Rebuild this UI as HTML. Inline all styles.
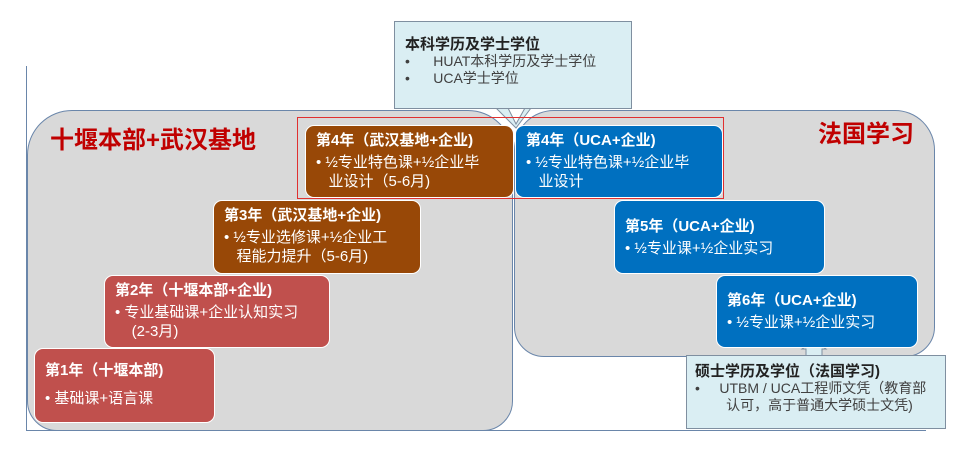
<!DOCTYPE html>
<html><head><meta charset="utf-8"><style>
body{margin:0;width:965px;height:451px;background:#fff;position:relative;overflow:hidden;font-family:"Liberation Sans","Noto Sans CJK SC",sans-serif}
.a{position:absolute;box-sizing:border-box}
.g{background:#d9d9d9;border:1px solid #6a86aa}
.c{background:#daeef3;border:1px solid #7f8fa0;color:#404040;font-size:14px;line-height:17px}
.b{border:1.5px solid #fff;border-radius:9px;color:#fff;font-size:15px;line-height:19px;padding:5px 10px}
.b b{font-size:15px;display:block;margin-bottom:3px}
.br{background:#984807}.bl{background:#0070c0}.rd{background:#c0504d}
.t{color:#c00000;font-weight:bold;font-size:24px}
</style></head><body>
<div class="a" style="left:26px;top:66px;width:1px;height:364px;background:#6a86aa"></div>
<div class="a" style="left:26px;top:430px;width:900px;height:1px;background:#6a86aa"></div>
<div class="a g" style="left:27px;top:110px;width:486px;height:321px;border-radius:45px 45px 30px 30px"></div>
<div class="a g" style="left:514px;top:110px;width:421px;height:247px;border-radius:40px 40px 30px 30px"></div>
<div class="a t" style="left:50px;top:120px">十堰本部+武汉基地</div>
<div class="a t" style="left:818px;top:114px">法国学习</div>
<svg class="a" style="left:0;top:0" width="965" height="451">
<polygon points="496,108 508,108 516,124 525,108 531,108 516,128" fill="#daeef3" stroke="#7f8fa0"/>
<polygon points="806,356 806,349 802,349 814,340 826,349 822,349 822,356" fill="#daeef3" stroke="#7f8fa0"/>
</svg>
<div class="a c" style="left:394px;top:21px;width:238px;height:88px;padding:14px 10px 0 10px"><b style="font-size:15px;color:#222">本科学历及学士学位</b><br>•&nbsp;&nbsp;&nbsp;&nbsp;&nbsp;&nbsp;HUAT本科学历及学士学位<br>•&nbsp;&nbsp;&nbsp;&nbsp;&nbsp;&nbsp;UCA学士学位</div>
<div class="a" style="left:297px;top:117px;width:427px;height:82px;border:1px solid #e03030"></div>
<div class="a b br" style="left:305px;top:125px;width:209px;height:73px"><b>第4年（武汉基地+企业)</b>• ½专业特色课+½企业毕<br>&nbsp;&nbsp;&nbsp;业设计（5-6月)</div>
<div class="a b bl" style="left:515px;top:125px;width:208px;height:73px"><b>第4年（UCA+企业)</b>• ½专业特色课+½企业毕<br>&nbsp;&nbsp;&nbsp;业设计</div>
<div class="a b br" style="left:213px;top:200px;width:208px;height:74px"><b>第3年（武汉基地+企业)</b>• ½专业选修课+½企业工<br>&nbsp;&nbsp;&nbsp;程能力提升（5-6月)</div>
<div class="a b bl" style="left:614px;top:200px;width:211px;height:74px;padding-top:16px"><b>第5年（UCA+企业)</b>• ½专业课+½企业实习</div>
<div class="a b rd" style="left:104px;top:275px;width:226px;height:73px"><b>第2年（十堰本部+企业)</b>• 专业基础课+企业认知实习<br>&nbsp;&nbsp;&nbsp;&nbsp;(2-3月)</div>
<div class="a b bl" style="left:716px;top:275px;width:202px;height:73px;padding-top:15px"><b>第6年（UCA+企业)</b>• ½专业课+½企业实习</div>
<div class="a b rd" style="left:34px;top:348px;width:181px;height:75px;padding-top:12px"><b style="margin-bottom:9px">第1年（十堰本部)</b>• 基础课+语言课</div>
<div class="a c" style="left:686px;top:355px;width:260px;height:74px;padding:7px 8px 0 8px"><b style="font-size:15px;color:#222">硕士学历及学位（法国学习)</b><br>•&nbsp;&nbsp;&nbsp;&nbsp;&nbsp;UTBM / UCA工程师文凭（教育部<br>&nbsp;&nbsp;&nbsp;&nbsp;&nbsp;&nbsp;&nbsp;&nbsp;认可，高于普通大学硕士文凭)</div>
</body></html>
